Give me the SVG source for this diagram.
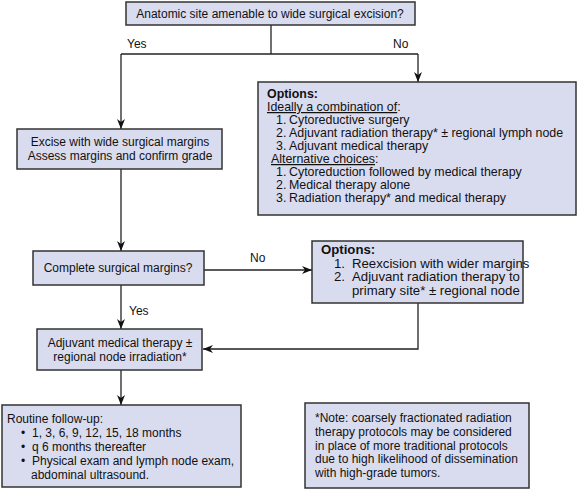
<svg xmlns="http://www.w3.org/2000/svg" width="578" height="489" viewBox="0 0 578 489">
<defs>
<marker id="ah" viewBox="0 0 10 8" refX="10" refY="4" markerWidth="10" markerHeight="8" markerUnits="userSpaceOnUse" orient="auto">
<path d="M0,0 L10,4 L0,8 L3,4 Z" fill="#111"/>
</marker>
</defs>
<style>
.box{fill:#d9dcef;stroke:#333;stroke-width:1.5}
.t{font-family:"Liberation Sans",Arial,sans-serif;font-size:12px;fill:#111}
.o1{font-size:12.4px}
.o2{font-size:13.2px}
.c{text-anchor:middle}
.b{font-weight:bold}
.u{text-decoration:underline}
.ln{fill:none;stroke:#222;stroke-width:1.3}
</style>
<rect width="578" height="489" fill="#fff"/>
<g id="connectors">
<path class="ln" d="M271,25 V54"/>
<path class="ln" d="M121,54 H418"/>
<path class="ln" d="M121,54 V129" marker-end="url(#ah)"/>
<path class="ln" d="M418,54 V82" marker-end="url(#ah)"/>
<path class="ln" d="M121,169 V251" marker-end="url(#ah)"/>
<path class="ln" d="M121,285 V329" marker-end="url(#ah)"/>
<path class="ln" d="M204,270 H312" marker-end="url(#ah)"/>
<path class="ln" d="M418,303 V349 H203" marker-end="url(#ah)"/>
<path class="ln" d="M121,370 V405" marker-end="url(#ah)"/>
<text class="t" x="127" y="48">Yes</text>
<text class="t" x="393" y="48">No</text>
<text class="t" x="250" y="262">No</text>
<text class="t" x="129" y="315">Yes</text>
</g>
<g id="n-anatomic">
<rect class="box" x="126" y="2" width="289" height="23"/>
<text class="t c" x="270" y="18">Anatomic site amenable to wide surgical excision?</text>
</g>
<g id="n-options1">
<rect class="box" x="258" y="82" width="318" height="133"/>
<text class="t o1 b" x="267" y="98">Options:</text>
<text class="t o1" x="267" y="111"><tspan class="u">Ideally a combination of</tspan>:</text>
<text class="t o1" x="276" y="124">1.</text><text class="t o1" x="289" y="124">Cytoreductive surgery</text>
<text class="t o1" x="276" y="137">2.</text><text class="t o1" x="289" y="137">Adjuvant radiation therapy* ± regional lymph node</text>
<text class="t o1" x="276" y="150">3.</text><text class="t o1" x="289" y="150">Adjuvant medical therapy</text>
<text class="t o1" x="271" y="163"><tspan class="u">Alternative choices</tspan>:</text>
<text class="t o1" x="276" y="176">1.</text><text class="t o1" x="289" y="176">Cytoreduction followed by medical therapy</text>
<text class="t o1" x="276" y="189">2.</text><text class="t o1" x="289" y="189">Medical therapy alone</text>
<text class="t o1" x="276" y="202">3.</text><text class="t o1" x="289" y="202">Radiation therapy* and medical therapy</text>
</g>
<g id="n-excise">
<rect class="box" x="17" y="129" width="205" height="40"/>
<text class="t c" x="120" y="146">Excise with wide surgical margins</text>
<text class="t c" x="120" y="160">Assess margins and confirm grade</text>
</g>
<g id="n-complete">
<rect class="box" x="33" y="251" width="171" height="34"/>
<text class="t c" x="118" y="272">Complete surgical margins?</text>
</g>
<g id="n-options2">
<rect class="box" x="312" y="241" width="211" height="62"/>
<text class="t o2 b" x="321" y="254">Options:</text>
<text class="t o2" x="334" y="267.5">1.</text><text class="t o2" x="352" y="267.5">Reexcision with wider margins</text>
<text class="t o2" x="334" y="281">2.</text><text class="t o2" x="352" y="281">Adjuvant radiation therapy to</text>
<text class="t o2" x="352" y="294.5">primary site* ± regional node</text>
</g>
<g id="n-adjuvant">
<rect class="box" x="37" y="329" width="165" height="41"/>
<text class="t c" x="120" y="347">Adjuvant medical therapy ±</text>
<text class="t c" x="120" y="361">regional node irradiation*</text>
</g>
<g id="n-routine">
<rect class="box" x="2" y="405" width="239" height="82"/>
<text class="t" x="7" y="423">Routine follow-up:</text>
<text class="t" x="21" y="437">•</text><text class="t" x="32" y="437">1, 3, 6, 9, 12, 15, 18 months</text>
<text class="t" x="21" y="451">•</text><text class="t" x="32" y="451">q 6 months thereafter</text>
<text class="t" x="21" y="465">•</text><text class="t" x="32" y="465">Physical exam and lymph node exam,</text>
<text class="t" x="31" y="479">abdominal ultrasound.</text>
</g>
<g id="n-note">
<rect class="box" x="305" y="403" width="224" height="85"/>
<text class="t" x="315" y="422">*Note: coarsely fractionated radiation</text>
<text class="t" x="315" y="436">therapy protocols may be considered</text>
<text class="t" x="315" y="450">in place of more traditional protocols</text>
<text class="t" x="315" y="463">due to high likelihood of dissemination</text>
<text class="t" x="315" y="477">with high-grade tumors.</text>
</g>
</svg>
